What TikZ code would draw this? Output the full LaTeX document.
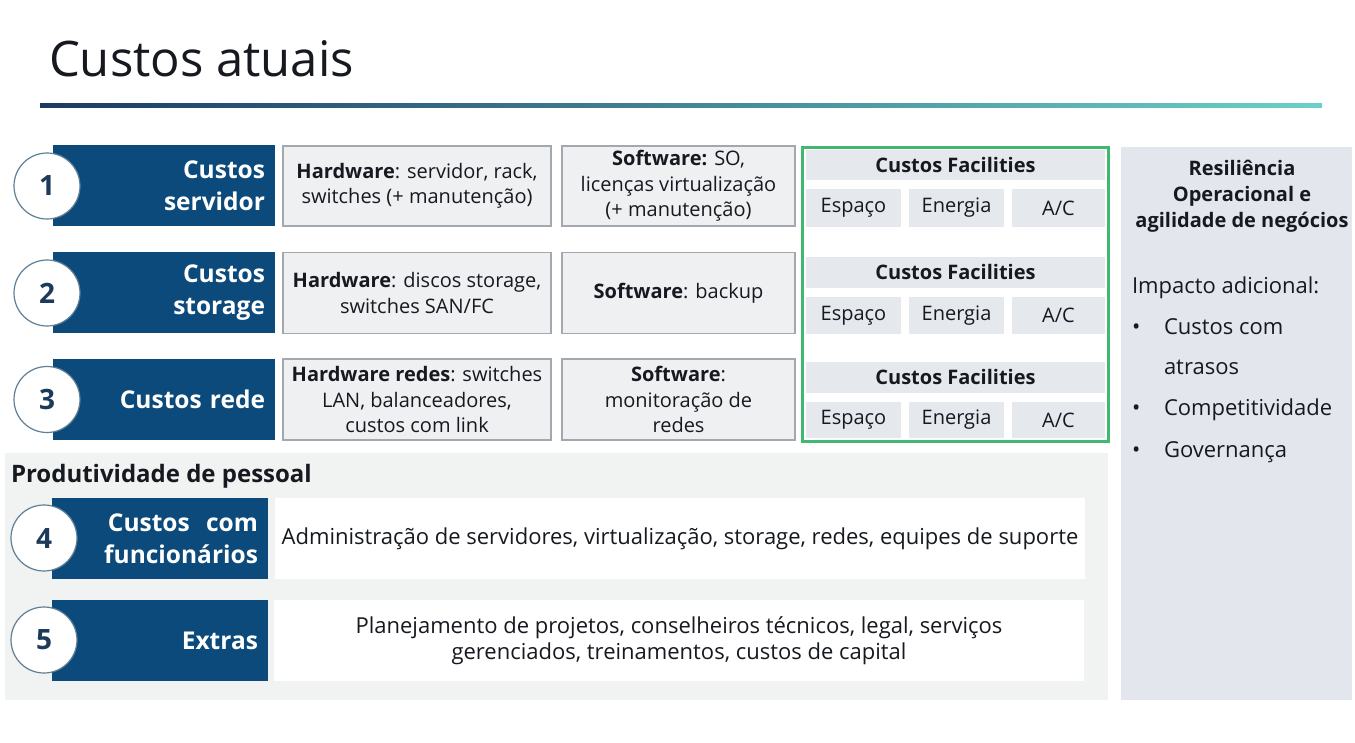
\documentclass[tikz,border=0pt]{standalone}
\usepackage{fontspec}
\setmainfont{Open Sans}
\newcommand{\setfs}[2]{\fontsize{#1}{#2}\selectfont}
\definecolor{bandblue}{HTML}{0C4A7B}
\definecolor{ringc}{HTML}{5F7F96}
\definecolor{numblue}{HTML}{1E3A5A}
\definecolor{cellfill}{HTML}{EEF0F2}
\definecolor{cellline}{HTML}{A3A8AE}
\definecolor{facgreen}{HTML}{40B870}
\definecolor{facfill}{HTML}{E5E8EC}
\definecolor{prodgray}{HTML}{F1F2F2}
\definecolor{panelfill}{HTML}{E3E7ED}
\definecolor{inkc}{HTML}{16191F}
\definecolor{lineA}{HTML}{1B3A63}
\definecolor{lineB}{HTML}{1B7A8E}
\definecolor{lineC}{HTML}{6CD0C8}
\begin{document}
\begin{tikzpicture}[x=1pt,y=-1pt,
  every node/.style={inner sep=0pt, outer sep=0pt, text=inkc},
  band/.style={fill=bandblue, draw=none, minimum height=81pt, text=white,
    font=\setfs{24.5}{32}\bfseries, align=right},
  numc/.style={circle, draw=ringc, line width=1.2pt, fill=white,
    minimum size=66pt, text=numblue, font=\setfs{28}{30}\bfseries},
  cell/.style={draw=cellline, line width=1.1pt, fill=cellfill,
    font=\setfs{20}{25.5}, align=center},
  whitecell/.style={fill=white, draw=none, minimum width=810pt,
    minimum height=81pt, font=\setfs{22}{26}, align=center},
  facbar/.style={fill=facfill, draw=none, minimum width=299pt,
    font=\setfs{20}{22}\bfseries},
  facbox/.style={fill=facfill, draw=none, font=\setfs{20}{22}},
  paneltxt/.style={font=\setfs{22}{26}, anchor=base west}
]
\useasboundingbox (0,0) rectangle (1355,742);
\fill[white] (0,0) rectangle (1355,742);

% heading and rule
\node[anchor=base west, font=\setfs{49}{55}] (title) at (49,76) {Custos atuais};
\shade[left color=lineA, middle color=lineB, right color=lineC]
  (40,103) rectangle (1322,107.5);

% staff productivity area and right-hand panel
\node[fill=prodgray, minimum width=1103pt, minimum height=247pt] (prod) at (556.5,576.5) {};
\node[fill=panelfill, minimum width=231pt, minimum height=553pt] (panel) at (1236.5,423.5) {};

% row 1: servers
\node[band, minimum width=222pt, text width=202pt] (b1) at (164,185.5) {Custos\\servidor};
\node[numc] (n1) at (47,186) {1};
\node[cell, minimum width=268pt, minimum height=80pt] (hw1) at (417,186)
  {\textbf{Hardware}: servidor, rack,\\switches (+ manutenção)};
\node[cell, minimum width=233pt, minimum height=80pt] (sw1) at (678.5,186)
  {\textbf{Software:} SO,\\licenças virtualização\\(+ manutenção)};

% row 2: storage
\node[band, minimum width=222pt, text width=202pt] (b2) at (164,292.5) {Custos\\storage};
\node[numc] (n2) at (47,293) {2};
\node[cell, minimum width=268pt, minimum height=81pt] (hw2) at (417,293)
  {\textbf{Hardware}: discos storage,\\switches SAN/FC};
\node[cell, minimum width=233pt, minimum height=81pt] (sw2) at (678.5,293)
  {\textbf{Software}: backup};

% row 3: network
\node[band, minimum width=222pt, text width=202pt] (b3) at (164,399.5) {Custos rede};
\node[numc] (n3) at (47,399.5) {3};
\node[cell, minimum width=268pt, minimum height=81pt] (hw3) at (417,399.5)
  {\textbf{Hardware redes}: switches\\LAN, balanceadores,\\custos com link};
\node[cell, minimum width=233pt, minimum height=81pt] (sw3) at (678.5,399.5)
  {\textbf{Software}:\\monitoração de\\redes};

% facilities column
\node[draw=facgreen, line width=3pt, minimum width=306pt, minimum height=294pt] (fac) at (955,294) {};
\node[facbar, minimum height=30pt] (fh1) at (955.5,165) {Custos Facilities};
\node[facbox, minimum width=95pt, minimum height=38pt] (e1) at (853.5,208) {Espaço};
\node[facbox, minimum width=95pt, minimum height=38pt] (g1) at (956.5,208) {Energia};
\node[facbox, minimum width=93pt, minimum height=38pt] (a1) at (1058.5,208) {A/C};
\node[facbar, minimum height=31pt] (fh2) at (955.5,272) {Custos Facilities};
\node[facbox, minimum width=95pt, minimum height=37pt] (e2) at (853.5,315.5) {Espaço};
\node[facbox, minimum width=95pt, minimum height=37pt] (g2) at (956.5,315.5) {Energia};
\node[facbox, minimum width=93pt, minimum height=37pt] (a2) at (1058.5,315.5) {A/C};
\node[facbar, minimum height=31pt] (fh3) at (955.5,377) {Custos Facilities};
\node[facbox, minimum width=95pt, minimum height=36pt] (e3) at (853.5,420) {Espaço};
\node[facbox, minimum width=95pt, minimum height=36pt] (g3) at (956.5,420) {Energia};
\node[facbox, minimum width=93pt, minimum height=36pt] (a3) at (1058.5,420) {A/C};

% staff productivity rows
\node[anchor=base west, font=\setfs{24}{28}\bfseries] (prodlbl) at (11,482) {Produtividade de pessoal};
\node[band, minimum width=216pt, text width=196pt] (b4) at (160,538.5) {Custos~~com\\funcionários};
\node[numc] (n4) at (44,538) {4};
\node[whitecell] (w4) at (680,538.5)
  {Administração de servidores, virtualização, storage, redes, equipes de suporte};
\node[band, minimum width=216pt, text width=196pt] (b5) at (160,640.5) {Extras};
\node[numc] (n5) at (44,640) {5};
\node[whitecell] (w5) at (679,640.5)
  {Planejamento de projetos, conselheiros técnicos, legal, serviços\\gerenciados, treinamentos, custos de capital};

% resilience panel text
\node[anchor=north, align=center, font=\setfs{20}{26}\bfseries] (rtitle) at (1242,160)
  {Resiliência\\Operacional e\\agilidade de negócios};
\node[paneltxt] (imp) at (1132,293) {Impacto adicional:};
\node[paneltxt] (d1) at (1132,334) {•};
\node[paneltxt] (t1) at (1164,334) {Custos com};
\node[paneltxt] (t1b) at (1164,374) {atrasos};
\node[paneltxt] (d2) at (1132,415) {•};
\node[paneltxt] (t2) at (1164,415) {Competitividade};
\node[paneltxt] (d3) at (1132,457) {•};
\node[paneltxt] (t3) at (1164,457) {Governança};
\end{tikzpicture}
\end{document}
